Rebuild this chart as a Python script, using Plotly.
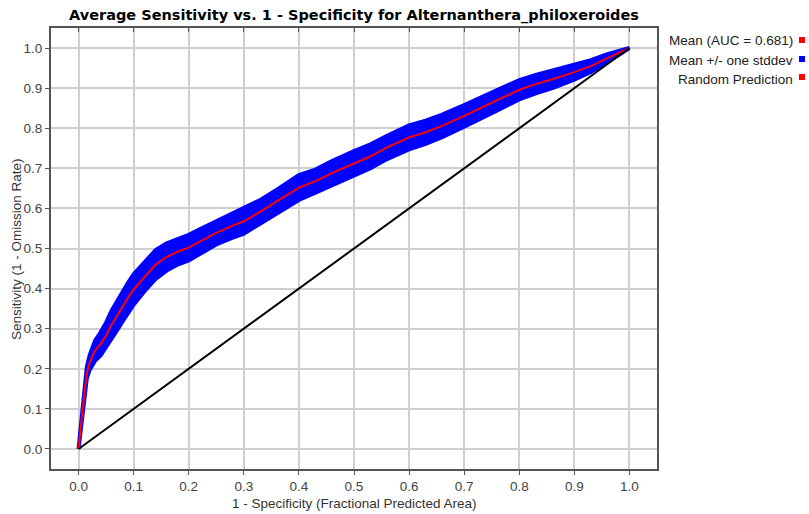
import plotly.graph_objects as go

# ---- data ----
fpr = [0, 0.005, 0.01, 0.015, 0.02, 0.025, 0.03, 0.04, 0.05, 0.06, 0.07, 0.08, 0.09,
       0.10, 0.12, 0.14, 0.16, 0.18, 0.20, 0.22, 0.25, 0.28, 0.30, 0.33, 0.36, 0.40,
       0.43, 0.46, 0.50, 0.53, 0.56, 0.60, 0.63, 0.66, 0.70, 0.73, 0.76, 0.80, 0.83,
       0.86, 0.90, 0.93, 0.96, 1.00]
mean_tpr = [0, 0.07, 0.13, 0.19, 0.215, 0.232, 0.245, 0.262, 0.283, 0.31, 0.333, 0.356, 0.378,
            0.398, 0.43, 0.46, 0.479, 0.492, 0.502, 0.517, 0.539, 0.557, 0.568, 0.592, 0.617, 0.652,
            0.668, 0.688, 0.712, 0.73, 0.752, 0.777, 0.79, 0.806, 0.831, 0.85, 0.87, 0.896, 0.91,
            0.922, 0.94, 0.955, 0.975, 1.0]
sd_tpr = [0, 0.006, 0.01, 0.014, 0.018, 0.022, 0.025, 0.029, 0.032, 0.035, 0.037, 0.038, 0.037,
          0.038, 0.036, 0.036, 0.034, 0.032, 0.032, 0.031, 0.029, 0.03, 0.031, 0.029, 0.03, 0.031,
          0.029, 0.03, 0.031, 0.03, 0.029, 0.03, 0.029, 0.028, 0.027, 0.027, 0.026, 0.024, 0.023,
          0.022, 0.019, 0.015, 0.01, 0.0]
random_x = [0, 1]
random_y = [0, 1]

x_ticks = [0.0, 0.1, 0.2, 0.3, 0.4, 0.5, 0.6, 0.7, 0.8, 0.9, 1.0]
y_ticks = [0.0, 0.1, 0.2, 0.3, 0.4, 0.5, 0.6, 0.7, 0.8, 0.9, 1.0]

legend_labels = ["Mean (AUC = 0.681)", "Mean +/- one stddev", "Random Prediction"]
legend_colors = ["#ff0000", "#0000ff", "#ff0000"]

title_text = "Average Sensitivity vs. 1 - Specificity for Alternanthera_philoxeroides"
x_title = "1 - Specificity (Fractional Predicted Area)"
y_title = "Sensitivity (1 - Omission Rate)"

# ---- figure ----
upper = [m + s for m, s in zip(mean_tpr, sd_tpr)]
lower = [m - s for m, s in zip(mean_tpr, sd_tpr)]

fig = go.Figure()
fig.add_trace(go.Scatter(
    x=fpr + fpr[::-1], y=upper + lower[::-1],
    fill="toself", fillcolor="#0000ff",
    line=dict(color="#0000ff", width=4), mode="lines", hoverinfo="skip"))
fig.add_trace(go.Scatter(x=fpr, y=mean_tpr, mode="lines",
                         line=dict(color="#ff0000", width=2)))
fig.add_trace(go.Scatter(x=random_x, y=random_y, mode="lines",
                         line=dict(color="#000000", width=2)))
# dummy trace so the top axis (inside ticks) is drawn
fig.add_trace(go.Scatter(x=[None], y=[None], xaxis="x2", mode="lines", hoverinfo="skip"))

font_family = "Liberation Sans, Arial, sans-serif"
fs = 13.5
axis_common = dict(
    showgrid=True, gridcolor="#cfcfcf", gridwidth=1.5,
    showline=True, linecolor="#555555", linewidth=2, mirror=True,
    ticks="outside", ticklen=4, tickcolor="#555555", tickwidth=1,
    tickfont=dict(family=font_family, size=fs, color="#444444"),
    zeroline=False, tickformat=".1f", automargin=False,
)

fig.update_layout(
    width=809, height=514,
    margin=dict(l=51, r=152, t=28, b=45, autoexpand=False),
    paper_bgcolor="white", plot_bgcolor="white",
    showlegend=False,
    title=dict(text="<b>" + title_text + "</b>", x=354 / 809, xanchor="center",
               y=1 - 15 / 514, yanchor="middle", automargin=False,
               font=dict(family="DejaVu Sans, sans-serif", size=14.5, color="#000000")),
    xaxis=dict(range=[-0.05, 1.05], tickvals=x_ticks, **axis_common),
    yaxis=dict(range=[-0.05, 1.05], tickvals=y_ticks, **axis_common),
    xaxis2=dict(overlaying="x", side="top", range=[-0.05, 1.05],
                tickvals=x_ticks, ticks="inside", ticklen=4, tickcolor="#555555",
                showticklabels=False, showgrid=False, showline=False, zeroline=False,
                automargin=False),
)

plot_l, plot_r, plot_t, plot_b = 51, 657, 28, 469
pw, ph = plot_r - plot_l, plot_b - plot_t

# axis titles
fig.add_annotation(x=0.5, y=(plot_b - 503) / ph, xref="paper", yref="paper",
                   text=x_title, showarrow=False, xanchor="center", yanchor="middle",
                   font=dict(family=font_family, size=fs, color="#333333"))
fig.add_annotation(x=(17 - plot_l) / pw, y=(plot_b - 249) / ph, xref="paper", yref="paper",
                   text=y_title, showarrow=False, xanchor="center", yanchor="middle",
                   textangle=-90, font=dict(family=font_family, size=fs, color="#333333"))

# legend drawn to the right: text followed by a small square
text_rows = [41, 60, 79]
square_rows = [40, 59, 77]
for lab, col, ty, sy in zip(legend_labels, legend_colors, text_rows, square_rows):
    fig.add_annotation(
        x=(795 - plot_l) / pw, y=(plot_b - ty) / ph, xref="paper", yref="paper",
        text=lab, showarrow=False, xanchor="right", yanchor="middle",
        font=dict(family=font_family, size=fs, color="#222222"))
    fig.add_shape(type="rect", xref="paper", yref="paper",
                  x0=(799 - plot_l) / pw, x1=(805 - plot_l) / pw,
                  y0=(plot_b - sy - 3) / ph, y1=(plot_b - sy + 3) / ph,
                  fillcolor=col, line=dict(width=0))

fig.write_html("out.html", config={"displayModeBar": False},
               post_script="document.body.style.margin='0';document.body.style.overflow='hidden';")
